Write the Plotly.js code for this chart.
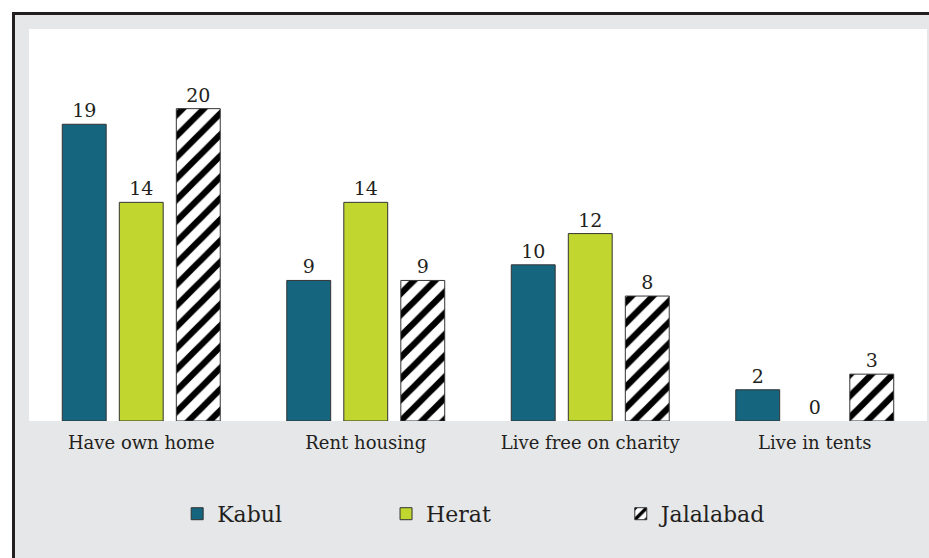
<!DOCTYPE html>
<html><head><meta charset="utf-8">
<script src="https://cdn.plot.ly/plotly-3.0.1.min.js"></script>
<style>
html,body{margin:0;padding:0;background:#ffffff;width:929px;height:558px;overflow:hidden;}
#frame{position:absolute;left:12px;top:12px;border-top:3px solid #231f20;border-left:3px solid #231f20;width:914px;height:543px;}
#chart{width:914px;height:543px;}
</style></head>
<body><div id="frame"><div id="chart"></div></div>
<script>
const categories = ["Have own home", "Rent housing", "Live free on charity", "Live in tents"];
const kabul = [19, 9, 10, 2];
const herat = [14, 14, 12, 0];
const jalalabad = [20, 9, 8, 3];
const seriesNames = ["Kabul", "Herat", "Jalalabad"];

const txt = '#231f20';
const fontFam = '"DejaVu Serif", "Liberation Serif", serif';

function bar(name, vals, marker, legend) {
  return {
    type: 'bar', name: name, x: categories, y: vals,
    text: vals.map(String), textposition: 'outside', cliponaxis: false,
    textfont: {family: fontFam, size: 19, color: txt},
    marker: Object.assign({line: {color: '#333333', width: vals.map(v => v === 0 ? 0 : 1)}}, marker),
    legend: legend, hoverinfo: 'x+y+name'
  };
}

const data = [
  bar(seriesNames[0], kabul, {color: '#16657f'}, 'legend'),
  bar(seriesNames[1], herat, {color: '#c1d72f'}, 'legend2'),
  bar(seriesNames[2], jalalabad, {color: '#ffffff', pattern: {shape: '/', size: 15, solidity: 0.42, fgcolor: '#000000', bgcolor: '#ffffff', fillmode: 'replace'}}, 'legend3')
];

const legFont = {family: fontFam, size: 22, color: txt};
function leg(x) {
  return {orientation: 'h', x: x, xanchor: 'left', y: -0.237, yanchor: 'middle', font: legFont, bgcolor: 'rgba(0,0,0,0)'};
}

const layout = {
  width: 914, height: 543,
  margin: {l: 14, r: 2, t: 14, b: 137},
  paper_bgcolor: '#e6e7e8', plot_bgcolor: '#ffffff',
  barmode: 'group', bargap: 0.238, bargroupgap: 0.23,
  showlegend: true,
  legend: leg(0.165), legend2: leg(0.3976), legend3: leg(0.659),
  xaxis: {
    showgrid: false, zeroline: false, showline: false, ticks: '',
    ticklabelstandoff: 9,
    tickfont: {family: fontFam, size: 18, color: txt}, fixedrange: true
  },
  yaxis: {
    range: [0, 25.1], showgrid: false, zeroline: false, showline: false,
    showticklabels: false, ticks: '', fixedrange: true
  }
};

Plotly.newPlot('chart', data, layout, {displayModeBar: false, staticPlot: true});
</script></body></html>
